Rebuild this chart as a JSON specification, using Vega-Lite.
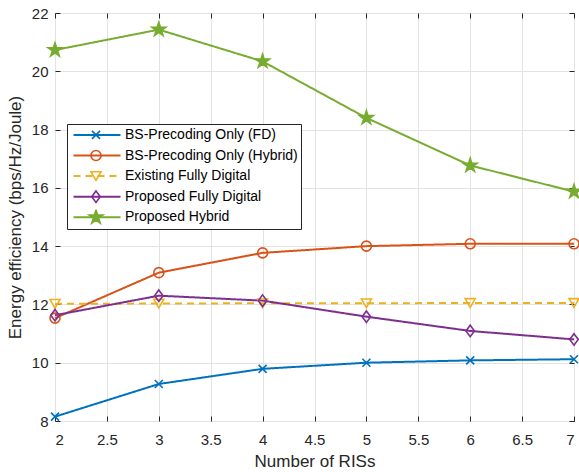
{
  "$schema": "https://vega.github.io/schema/vega-lite/v6.json",
  "width": 519,
  "height": 408,
  "autosize": {"type": "none"},
  "padding": {"left": 55, "top": 13, "right": 5, "bottom": 51},
  "background": "white",
  "config": {
    "font": "Liberation Sans",
    "view": {"stroke": "#262626", "strokeWidth": 1},
    "axis": {
      "domain": false,
      "gridColor": "#e3e3e3",
      "gridOpacity": 1,
      "tickColor": "#262626",
      "tickWidth": 1,
      "labelColor": "#262626",
      "labelFontSize": 15,
      "labelFont": "Liberation Sans",
      "titleFont": "Liberation Sans",
      "titleFontSize": 17,
      "titleFontWeight": "normal",
      "titleColor": "#262626"
    }
  },
  "data": {
    "values": [
      {"n": 2, "series": "BS-Precoding Only (FD)", "ee": 8.15},
      {"n": 3, "series": "BS-Precoding Only (FD)", "ee": 9.27},
      {"n": 4, "series": "BS-Precoding Only (FD)", "ee": 9.79},
      {"n": 5, "series": "BS-Precoding Only (FD)", "ee": 10.0},
      {"n": 6, "series": "BS-Precoding Only (FD)", "ee": 10.08},
      {"n": 7, "series": "BS-Precoding Only (FD)", "ee": 10.12},
      {"n": 2, "series": "BS-Precoding Only (Hybrid)", "ee": 11.53},
      {"n": 3, "series": "BS-Precoding Only (Hybrid)", "ee": 13.09},
      {"n": 4, "series": "BS-Precoding Only (Hybrid)", "ee": 13.77},
      {"n": 5, "series": "BS-Precoding Only (Hybrid)", "ee": 14.0},
      {"n": 6, "series": "BS-Precoding Only (Hybrid)", "ee": 14.08},
      {"n": 7, "series": "BS-Precoding Only (Hybrid)", "ee": 14.08},
      {"n": 2, "series": "Existing Fully Digital", "ee": 12.02},
      {"n": 3, "series": "Existing Fully Digital", "ee": 12.03},
      {"n": 4, "series": "Existing Fully Digital", "ee": 12.04},
      {"n": 5, "series": "Existing Fully Digital", "ee": 12.04},
      {"n": 6, "series": "Existing Fully Digital", "ee": 12.05},
      {"n": 7, "series": "Existing Fully Digital", "ee": 12.05},
      {"n": 2, "series": "Proposed Fully Digital", "ee": 11.63},
      {"n": 3, "series": "Proposed Fully Digital", "ee": 12.3},
      {"n": 4, "series": "Proposed Fully Digital", "ee": 12.13},
      {"n": 5, "series": "Proposed Fully Digital", "ee": 11.58},
      {"n": 6, "series": "Proposed Fully Digital", "ee": 11.09},
      {"n": 7, "series": "Proposed Fully Digital", "ee": 10.8},
      {"n": 2, "series": "Proposed Hybrid", "ee": 20.73},
      {"n": 3, "series": "Proposed Hybrid", "ee": 21.43},
      {"n": 4, "series": "Proposed Hybrid", "ee": 20.34},
      {"n": 5, "series": "Proposed Hybrid", "ee": 18.4},
      {"n": 6, "series": "Proposed Hybrid", "ee": 16.77},
      {"n": 7, "series": "Proposed Hybrid", "ee": 15.87}
    ]
  },
  "layer": [
    {
      "mark": {"type": "line", "strokeWidth": 2},
      "encoding": {
        "x": {
          "field": "n", "type": "quantitative",
          "scale": {"domain": [2, 7], "nice": false, "zero": false},
          "axis": {"values": [2, 2.5, 3, 3.5, 4, 4.5, 5, 5.5, 6, 6.5, 7], "format": "~g", "title": "Number of RISs", "tickSize": -5, "labelPadding": 16, "titlePadding": 6}
        },
        "y": {
          "field": "ee", "type": "quantitative",
          "scale": {"domain": [8, 22], "nice": false, "zero": false},
          "axis": {"values": [8, 10, 12, 14, 16, 18, 20, 22], "format": "~g", "title": "Energy efficiency (bps/Hz/Joule)", "tickSize": -5, "labelPadding": 12, "titlePadding": 7}
        },
        "color": {
          "field": "series", "type": "nominal",
          "scale": {
            "domain": ["BS-Precoding Only (FD)", "BS-Precoding Only (Hybrid)", "Existing Fully Digital", "Proposed Fully Digital", "Proposed Hybrid"],
            "range": ["#0072BD", "#D95319", "#EDB120", "#7E2F8E", "#77AC30"]
          },
          "legend": {"title": null, "orient": "none", "legendX": 12, "legendY": 111, "symbolType": "M-4.7,0L4.7,0", "symbolSize": 100, "symbolStrokeWidth": 2, "symbolOffset": 20, "labelOffset": 21, "labelFontSize": 14, "labelColor": "#000000", "labelFont": "Liberation Sans", "labelLimit": 400, "rowPadding": 4.6, "clipHeight": 15.8, "padding": 3, "fillColor": "white", "strokeColor": "#262626", "cornerRadius": 0}
        },
        "strokeDash": {
          "field": "series", "type": "nominal",
          "scale": {
            "domain": ["BS-Precoding Only (FD)", "BS-Precoding Only (Hybrid)", "Existing Fully Digital", "Proposed Fully Digital", "Proposed Hybrid"],
            "range": [[1, 0], [1, 0], [7, 5], [1, 0], [1, 0]]
          },
          "legend": {"title": null, "orient": "none", "legendX": 12, "legendY": 111, "symbolType": "M-4.7,0L4.7,0", "symbolSize": 100, "symbolStrokeWidth": 2, "symbolOffset": 20, "labelOffset": 21, "labelFontSize": 14, "labelColor": "#000000", "labelFont": "Liberation Sans", "labelLimit": 400, "rowPadding": 4.6, "clipHeight": 15.8, "padding": 3, "fillColor": "white", "strokeColor": "#262626", "cornerRadius": 0}
        }
      }
    },
    {
      "mark": {"type": "point", "filled": false, "strokeWidth": 1.6, "opacity": 1, "size": 100},
      "encoding": {
        "x": {"field": "n", "type": "quantitative", "axis": null},
        "y": {"field": "ee", "type": "quantitative", "axis": null},
        "color": {
          "field": "series", "type": "nominal",
          "legend": {"title": null, "orient": "none", "legendX": 12, "legendY": 111, "symbolSize": 100, "symbolStrokeWidth": 1.6, "symbolOffset": 19, "labelOffset": 21, "labelFontSize": 14, "labelOpacity": 0, "labelFont": "Liberation Sans", "labelLimit": 400, "rowPadding": 4.6, "clipHeight": 15.8, "padding": 3}
        },
        "shape": {
          "field": "series", "type": "nominal",
          "scale": {
            "domain": ["BS-Precoding Only (FD)", "BS-Precoding Only (Hybrid)", "Existing Fully Digital", "Proposed Fully Digital", "Proposed Hybrid"],
            "range": ["M-0.8,-0.8L0.8,0.8M-0.8,0.8L0.8,-0.8", "circle", "triangle-down", "M0,-1.15L0.85,0L0,1.15L-0.85,0Z", "M0,-1.45L0.326,-0.448L1.379,-0.448L0.526,0.171L0.853,1.173L0,0.554L-0.853,1.173L-0.526,0.171L-1.379,-0.448L-0.326,-0.448Z"]
          },
          "legend": {"title": null, "orient": "none", "legendX": 12, "legendY": 111, "symbolSize": 100, "symbolStrokeWidth": 1.6, "symbolOffset": 19, "labelOffset": 21, "labelFontSize": 14, "labelOpacity": 0, "labelFont": "Liberation Sans", "labelLimit": 400, "rowPadding": 4.6, "clipHeight": 15.8, "padding": 3}
        },
        "fill": {
          "field": "series", "type": "nominal",
          "scale": {
            "domain": ["BS-Precoding Only (FD)", "BS-Precoding Only (Hybrid)", "Existing Fully Digital", "Proposed Fully Digital", "Proposed Hybrid"],
            "range": ["transparent", "transparent", "transparent", "transparent", "#77AC30"]
          },
          "legend": {"title": null, "orient": "none", "legendX": 12, "legendY": 111, "symbolSize": 100, "symbolStrokeWidth": 1.6, "symbolOffset": 19, "labelOffset": 21, "labelFontSize": 14, "labelOpacity": 0, "labelFont": "Liberation Sans", "labelLimit": 400, "rowPadding": 4.6, "clipHeight": 15.8, "padding": 3}
        }
      }
    },
    {
      "mark": {"type": "point", "opacity": 0},
      "encoding": {
        "x": {"field": "n", "type": "quantitative", "axis": {"orient": "top", "values": [2, 2.5, 3, 3.5, 4, 4.5, 5, 5.5, 6, 6.5, 7], "labels": false, "grid": false, "title": null, "tickSize": -5}},
        "y": {"field": "ee", "type": "quantitative", "axis": {"orient": "right", "values": [8, 10, 12, 14, 16, 18, 20, 22], "labels": false, "grid": false, "title": null, "tickSize": -5}}
      }
    }
  ],
  "resolve": {
    "axis": {"x": "independent", "y": "independent"},
    "legend": {"color": "independent", "shape": "independent", "strokeDash": "independent", "fill": "independent"}
  }
}
